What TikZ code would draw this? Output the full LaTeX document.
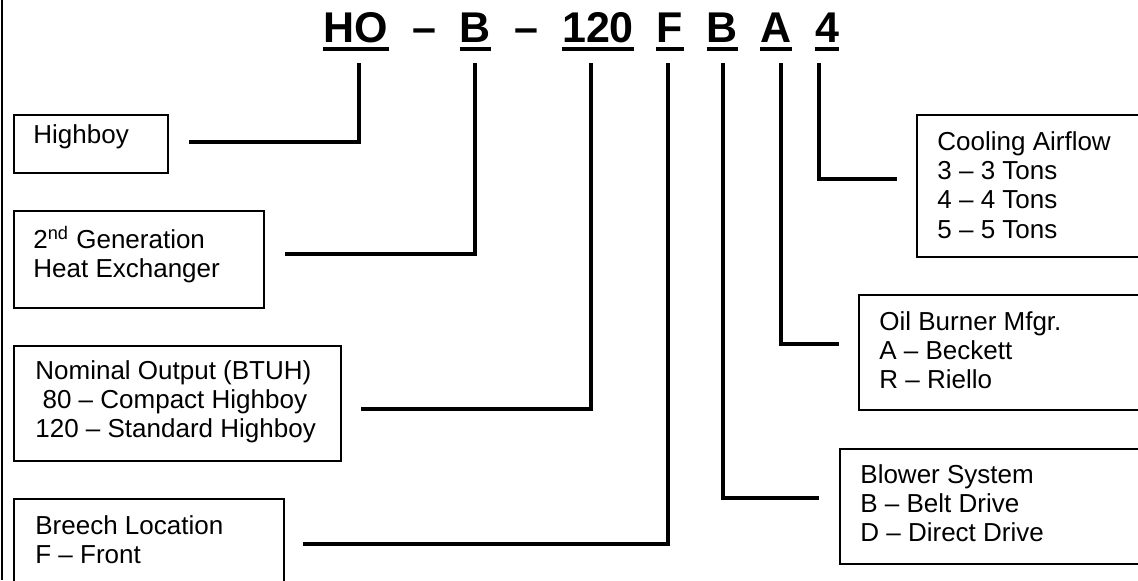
\documentclass[tikz,border=0pt]{standalone}
\usepackage{fontspec}
\setmainfont{Liberation Sans}
\usetikzlibrary{positioning}
\tikzset{
    modelch/.style={font=\fontsize{21.5}{24}\selectfont\bfseries, inner sep=0pt, anchor=base},
    keybox/.style={draw, line width=0.8pt, inner sep=0pt, anchor=north west},
    keytext/.style={font=\fontsize{13}{14.6}\selectfont, inner sep=0pt, anchor=base west, align=left},
    leader/.style={line width=2pt, line join=miter},
    uline/.style={line width=2pt}
}
\begin{document}
\begin{tikzpicture}[x=0.5pt, y=-0.5pt]
    \useasboundingbox (0,0) rectangle (1138,580);
    \clip (0,0) rectangle (1138,580);
    \draw[line width=0.75pt] (2,0) -- (2,580);
    % model number
    \node[modelch] (cHO) at (356,42.7) {HO};
    \node[modelch] (dashA) at (424,42.7) {–};
    \node[modelch] (cGen) at (475.5,42.7) {B};
    \node[modelch] (dashB) at (526,42.7) {–};
    \node[modelch] (cOut) at (598,42.7) {120};
    \node[modelch] (cBr) at (670,42.7) {F};
    \node[modelch] (cBl) at (722.5,42.7) {B};
    \node[modelch] (cOil) at (776,42.7) {A};
    \node[modelch] (cCool) at (827,42.7) {4};
    \draw[uline]
    ([yshift=-3pt]cHO.base west) edge ([yshift=-3pt]cHO.base east)
    ([yshift=-3pt]cGen.base west) edge ([yshift=-3pt]cGen.base east)
    ([yshift=-3pt]cOut.base west) edge ([yshift=-3pt]cOut.base east)
    ([yshift=-3pt]cBr.base west) edge ([yshift=-3pt]cBr.base east)
    ([yshift=-3pt]cBl.base west) edge ([yshift=-3pt]cBl.base east)
    ([yshift=-3pt]cOil.base west) edge ([yshift=-3pt]cOil.base east)
    ([yshift=-3pt]cCool.base west) edge ([yshift=-3pt]cCool.base east);
    % left column (text anchored at its last line)
    \node[keybox, minimum width=77pt, minimum height=29pt] (hiBox) at (13,114) {};
    \node[keytext] (hiText) at ([shift={(20,29.5)}]hiBox.north west) {Highboy};
    \node[keybox, minimum width=125pt, minimum height=48.5pt] (genBox) at (13,210) {};
    \node[keytext] (genText) at ([shift={(20,67.2)}]genBox.north west) {2\textsuperscript{nd} Generation\\Heat Exchanger};
    \node[keybox, minimum width=163.5pt, minimum height=57.5pt] (outBox) at (13,345) {};
    \node[keytext] (outText) at ([shift={(22,92.4)}]outBox.north west) {Nominal Output (BTUH)\\~80 – Compact Highboy\\120 – Standard Highboy};
    \node[keybox, minimum width=135pt, minimum height=60pt] (brBox) at (13,498) {};
    \node[keytext] (brText) at ([shift={(22,65.2)}]brBox.north west) {Breech Location\\F – Front};
    % right column
    \node[keybox, minimum width=130pt, minimum height=71pt] (coolBox) at (916,114) {};
    \node[keytext] (coolText) at ([shift={(21,124.1)}]coolBox.north west) {Cooling Airflow\\3 – 3 Tons\\4 – 4 Tons\\5 – 5 Tons};
    \node[keybox, minimum width=159pt, minimum height=57.5pt] (oilBox) at (858,294) {};
    \node[keytext] (oilText) at ([shift={(21,94.4)}]oilBox.north west) {Oil Burner Mfgr.\\A – Beckett\\R – Riello};
    \node[keybox, minimum width=168.5pt, minimum height=57.5pt] (blBox) at (839,448) {};
    \node[keytext] (blText) at ([shift={(21,93.4)}]blBox.north west) {Blower System\\B – Belt Drive\\D – Direct Drive};
    % leaders
    \draw[leader] ([shift={(3,20.5)}]cHO.base) |- ([shift={(20,28)}]hiBox.north east);
    \draw[leader] ([shift={(-0.5,20.5)}]cGen.base) |- ([shift={(20,44.3)}]genBox.north east);
    \draw[leader] ([shift={(-7,20.5)}]cOut.base) |- ([shift={(19,64)}]outBox.north east);
    \draw[leader] ([shift={(-2,20.5)}]cBr.base) |- ([shift={(18,45.5)}]brBox.north east);
    \draw[leader] ([shift={(0.8,20.5)}]cBl.base) |- ([shift={(-19.7,49.7)}]blBox.north west);
    \draw[leader] ([shift={(5,20.5)}]cOil.base) |- ([shift={(-19.3,50.3)}]oilBox.north west);
    \draw[leader] ([shift={(-8,20.5)}]cCool.base) |- ([shift={(-19.3,65)}]coolBox.north west);
\end{tikzpicture}
\end{document}
